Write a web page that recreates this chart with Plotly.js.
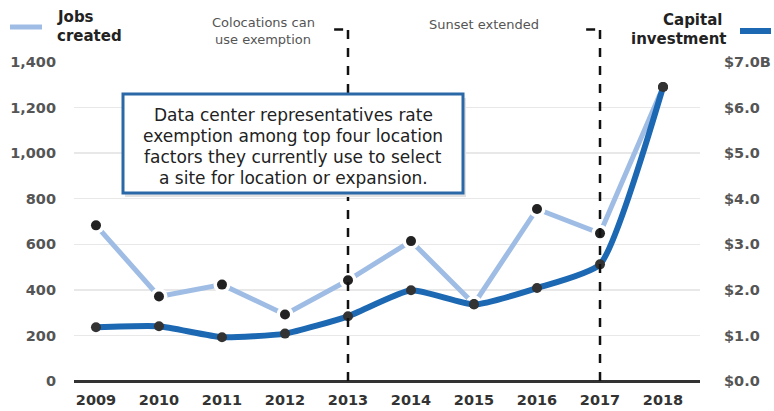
<!DOCTYPE html>
<html>
<head>
<meta charset="utf-8">
<script src="https://cdn.plot.ly/plotly-3.0.1.min.js"></script>
<style>html,body{margin:0;padding:0;background:#fff;}#chart{width:774px;height:411px;}</style>
</head>
<body>
<div id="chart"></div>
<script>
var years = [2009, 2010, 2011, 2012, 2013, 2014, 2015, 2016, 2017, 2018];
var jobsCreated = [683, 371, 423, 292, 442, 614, 338, 755, 648, 1290];
var capitalInvestment = [1.18, 1.2, 0.96, 1.04, 1.42, 1.99, 1.68, 2.04, 2.56, 6.45];
var jobsTicks = [0, 200, 400, 600, 800, 1000, 1200, 1400];
var jobsTickText = ['0', '200', '400', '600', '800', '1,000', '1,200', '1,400'];
var capTicks = [0, 1, 2, 3, 4, 5, 6, 7];
var capTickText = ['$0.0', '$1.0', '$2.0', '$3.0', '$4.0', '$5.0', '$6.0', '$7.0B'];
var eventYears = [2013, 2017];
var eventLabels = [['Colocations can', 'use exemption'], ['Sunset extended']];
var boxLines = ['Data center representatives rate', 'exemption among top four location',
  'factors they currently use to select', 'a site for location or expansion.'];
var jobsLabel = ['Jobs', 'created'];
var capitalLabel = ['Capital', 'investment'];

var FONT = 'DejaVu Sans, Verdana, sans-serif';
var lightBlue = '#9fbde4';
var darkBlue = '#1c68b3';

var traces = [
  {x: years, y: jobsCreated, type: 'scatter', mode: 'lines', name: 'Jobs created',
   line: {color: lightBlue, width: 5}, yaxis: 'y', hoverinfo: 'skip'},
  {x: years, y: jobsCreated, type: 'scatter', mode: 'markers', name: 'gap',
   marker: {color: '#ffffff', size: 17}, yaxis: 'y', hoverinfo: 'skip'},
  {x: years, y: jobsCreated, type: 'scatter', mode: 'markers', name: 'Jobs points',
   marker: {color: '#222', size: 10}, yaxis: 'y'},
  {x: years, y: capitalInvestment, type: 'scatter', mode: 'lines+markers', name: 'Capital investment',
   line: {color: darkBlue, width: 6, shape: 'spline', smoothing: 0.5},
   marker: {color: '#333', size: 10}, yaxis: 'y2'}
];

function px2x(px) { return (px - 74) / 626; }
function py2y(py) { return (381 - py) / 319; }

var shapes = [];
eventYears.forEach(function (yr) {
  shapes.push({type: 'line', xref: 'x', yref: 'paper', x0: yr, x1: yr, y0: 0, y1: py2y(29),
    line: {color: '#111', width: 2.5, dash: 'dash'}});
  shapes.push({type: 'line', xref: 'x', yref: 'paper', x0: yr - 0.22, x1: yr, y0: py2y(29.5), y1: py2y(29.5),
    line: {color: '#111', width: 2.5, dash: 'dash'}});
});
shapes.push({type: 'rect', xref: 'paper', yref: 'paper', x0: px2x(125), x1: px2x(466), y0: py2y(197), y1: py2y(98),
  line: {width: 0}, fillcolor: '#e2e2e2'});
shapes.push({type: 'rect', xref: 'paper', yref: 'paper', x0: px2x(123), x1: px2x(463), y0: py2y(193), y1: py2y(94),
  line: {color: '#2a68a8', width: 3}, fillcolor: '#ffffff'});
shapes.push({type: 'line', xref: 'paper', yref: 'paper', x0: px2x(10), x1: px2x(42), y0: py2y(27), y1: py2y(27),
  line: {color: lightBlue, width: 5}});
shapes.push({type: 'line', xref: 'paper', yref: 'paper', x0: px2x(740), x1: px2x(771), y0: py2y(31), y1: py2y(31),
  line: {color: darkBlue, width: 6}});

var annotations = [];
var boxY = [115, 136, 157, 178];
boxLines.forEach(function (t, i) {
  annotations.push({xref: 'paper', yref: 'paper', x: px2x(293), y: py2y(boxY[i]), text: t, showarrow: false,
    xanchor: 'center', yanchor: 'middle', font: {family: FONT, size: 17, color: '#222'}});
});
var jobsY = [16.5, 35.5];
jobsLabel.forEach(function (t, i) {
  annotations.push({xref: 'paper', yref: 'paper', x: px2x(55), y: py2y(jobsY[i]), text: t, showarrow: false,
    xanchor: 'left', yanchor: 'middle', font: {family: FONT, size: 15, color: '#222', weight: 700}});
});
var capY = [20, 38.5], capX = [724, 729];
capitalLabel.forEach(function (t, i) {
  annotations.push({xref: 'paper', yref: 'paper', x: px2x(capX[i]), y: py2y(capY[i]), text: t, showarrow: false,
    xanchor: 'right', yanchor: 'middle', font: {family: FONT, size: 15, color: '#222', weight: 700}});
});
var evX = [263, 484];
var evY = [[22.5, 39.5], [25]];
eventLabels.forEach(function (lines, k) {
  lines.forEach(function (t, i) {
    annotations.push({xref: 'paper', yref: 'paper', x: px2x(evX[k]), y: py2y(evY[k][i]), text: t, showarrow: false,
      xanchor: 'center', yanchor: 'middle', borderpad: 0, font: {family: FONT, size: 13, color: '#555'}});
  });
});

var tickFont = {family: FONT, size: 14.5, color: '#555', weight: 700};
var layout = {
  width: 774, height: 411,
  margin: {l: 74, r: 74, t: 62, b: 30},
  paper_bgcolor: '#fff', plot_bgcolor: '#fff',
  showlegend: false,
  xaxis: {
    range: [2008.651, 2018.587], tickvals: years, ticktext: years.map(String),
    showgrid: false, zeroline: false, showline: false, ticks: '',
    ticklabelstandoff: 8,
    tickfont: {family: FONT, size: 14.5, color: '#333', weight: 700}
  },
  yaxis: {
    range: [0, 1400], tickvals: jobsTicks, ticktext: jobsTickText,
    showgrid: true, gridcolor: '#e8e8e8', gridwidth: 1.5,
    zeroline: true, zerolinecolor: '#333', zerolinewidth: 3,
    showline: false, ticks: '', ticklabelstandoff: 17,
    tickfont: tickFont
  },
  yaxis2: {
    range: [0, 7], tickvals: capTicks, ticktext: capTickText, overlaying: 'y', side: 'right',
    showgrid: false, zeroline: false, showline: false, ticks: '', ticklabelstandoff: 23,
    tickfont: tickFont
  },
  shapes: shapes,
  annotations: annotations
};

Plotly.newPlot('chart', traces, layout, {displayModeBar: false, staticPlot: true});
</script>
</body>
</html>
